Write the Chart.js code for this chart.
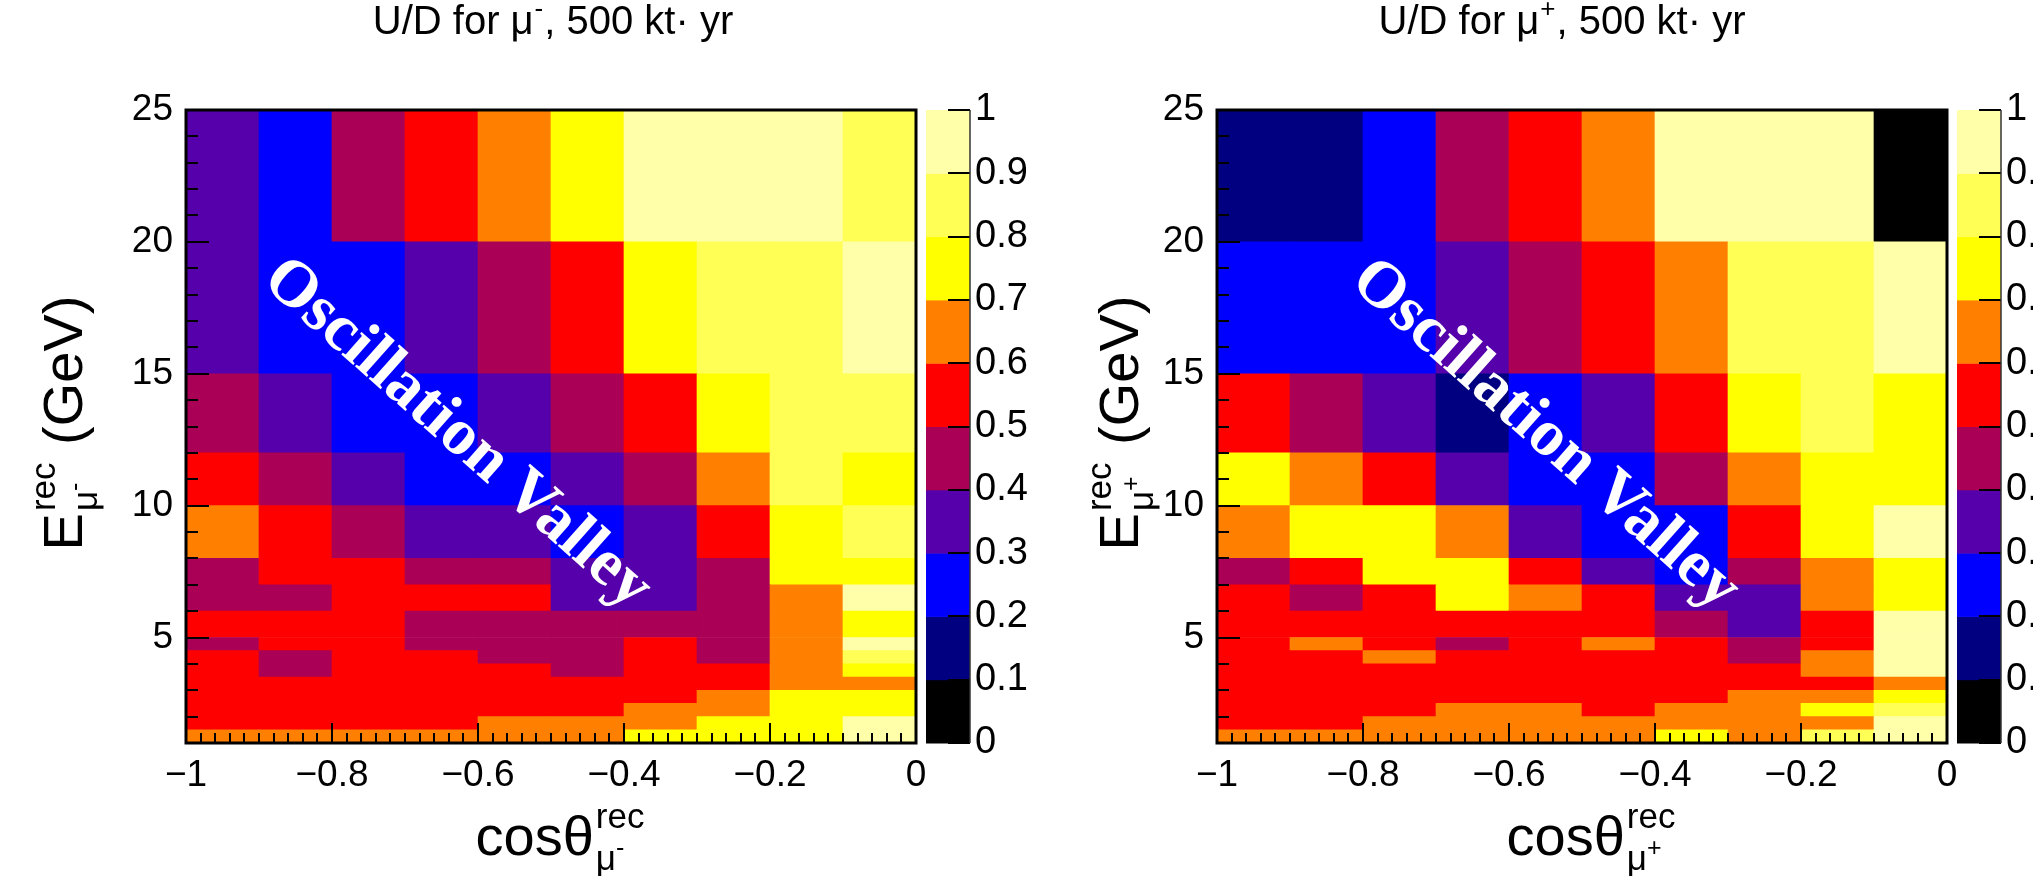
<!DOCTYPE html>
<html>
<head>
<meta charset="utf-8">
<script src="https://cdn.jsdelivr.net/npm/chart.js@4.4.1/dist/chart.umd.min.js"></script>
<style>
  body { margin: 0; background: #fff; width: 2033px; height: 876px; overflow: hidden; position: relative; }
  canvas { position: absolute; top: 0; }
  #udMinus { left: 0; }
  #udPlus { left: 1016px; }
</style>
</head>
<body>
<canvas id="udMinus" width="1100" height="876"></canvas>
<canvas id="udPlus" width="1017" height="876"></canvas>
<script>
// bin edges of the 2D histograms
const cosEdges = [-1, -0.9, -0.8, -0.7, -0.6, -0.5, -0.4, -0.3, -0.2, -0.1, 0];
const eEdges = [1, 1.5, 2, 2.5, 3, 3.5, 4, 4.5, 5, 6, 7, 8, 10, 12, 15, 20, 25];

// tick labels
const xTickVals = [-1, -0.8, -0.6, -0.4, -0.2, 0];
const yTickVals = [5, 10, 15, 20, 25];
const zTickVals = [0, 0.1, 0.2, 0.3, 0.4, 0.5, 0.6, 0.7, 0.8, 0.9, 1];

// ROOT-like 10 level palette, 0 -> 1
const palette = ['#000000', '#000080', '#0000ff', '#5500aa', '#aa0055',
                 '#ff0000', '#ff8000', '#ffff00', '#ffff55', '#ffffaa'];

// U/D ratio, one row per E bin (lowest E first), 10 cos bins each (-1 -> 0)
const udMuMinus = [
  [0.65, 0.65, 0.65, 0.65, 0.65, 0.65, 0.75, 0.75, 0.75, 0.95],
  [0.55, 0.55, 0.55, 0.55, 0.65, 0.65, 0.65, 0.75, 0.75, 0.95],
  [0.55, 0.55, 0.55, 0.55, 0.55, 0.55, 0.65, 0.65, 0.75, 0.75],
  [0.55, 0.55, 0.55, 0.55, 0.55, 0.55, 0.55, 0.65, 0.75, 0.75],
  [0.55, 0.55, 0.55, 0.55, 0.55, 0.55, 0.55, 0.55, 0.65, 0.65],
  [0.55, 0.45, 0.55, 0.55, 0.55, 0.45, 0.55, 0.55, 0.65, 0.75],
  [0.55, 0.45, 0.55, 0.55, 0.45, 0.45, 0.55, 0.45, 0.65, 0.85],
  [0.45, 0.55, 0.55, 0.45, 0.45, 0.45, 0.55, 0.45, 0.65, 0.95],
  [0.55, 0.55, 0.55, 0.45, 0.45, 0.45, 0.45, 0.45, 0.65, 0.75],
  [0.45, 0.45, 0.55, 0.55, 0.55, 0.35, 0.35, 0.45, 0.65, 0.95],
  [0.45, 0.55, 0.55, 0.45, 0.45, 0.35, 0.35, 0.45, 0.75, 0.75],
  [0.65, 0.55, 0.45, 0.35, 0.35, 0.25, 0.35, 0.55, 0.75, 0.85],
  [0.55, 0.45, 0.35, 0.25, 0.25, 0.35, 0.45, 0.65, 0.85, 0.75],
  [0.45, 0.35, 0.25, 0.25, 0.35, 0.45, 0.55, 0.75, 0.85, 0.85],
  [0.35, 0.25, 0.25, 0.35, 0.45, 0.55, 0.75, 0.85, 0.85, 0.95],
  [0.35, 0.25, 0.45, 0.55, 0.65, 0.75, 0.95, 0.95, 0.95, 0.85]
];

const udMuPlus = [
  [0.65, 0.65, 0.65, 0.65, 0.65, 0.65, 0.75, 0.65, 0.85, 0.95],
  [0.55, 0.55, 0.65, 0.65, 0.65, 0.65, 0.65, 0.65, 0.65, 0.95],
  [0.55, 0.55, 0.55, 0.65, 0.65, 0.55, 0.65, 0.65, 0.75, 0.85],
  [0.55, 0.55, 0.55, 0.55, 0.55, 0.55, 0.55, 0.65, 0.65, 0.75],
  [0.55, 0.55, 0.55, 0.55, 0.55, 0.55, 0.55, 0.55, 0.55, 0.65],
  [0.55, 0.55, 0.55, 0.55, 0.55, 0.55, 0.55, 0.55, 0.65, 0.95],
  [0.55, 0.55, 0.65, 0.55, 0.55, 0.55, 0.55, 0.45, 0.65, 0.95],
  [0.55, 0.65, 0.55, 0.45, 0.55, 0.65, 0.55, 0.45, 0.55, 0.95],
  [0.55, 0.55, 0.55, 0.55, 0.55, 0.55, 0.45, 0.35, 0.55, 0.95],
  [0.55, 0.45, 0.55, 0.75, 0.65, 0.55, 0.35, 0.35, 0.65, 0.75],
  [0.45, 0.55, 0.75, 0.75, 0.55, 0.35, 0.25, 0.45, 0.65, 0.75],
  [0.65, 0.75, 0.75, 0.65, 0.35, 0.25, 0.25, 0.55, 0.75, 0.95],
  [0.75, 0.65, 0.55, 0.35, 0.25, 0.25, 0.45, 0.65, 0.75, 0.75],
  [0.55, 0.45, 0.35, 0.15, 0.25, 0.35, 0.55, 0.75, 0.85, 0.75],
  [0.25, 0.25, 0.25, 0.35, 0.45, 0.55, 0.65, 0.85, 0.85, 0.95],
  [0.15, 0.15, 0.25, 0.45, 0.55, 0.65, 0.95, 0.95, 0.95, 0.00]
];

const SANS = '"Liberation Sans", Arial, Helvetica, sans-serif';

function colorFor(v) {
  return palette[Math.max(0, Math.min(9, Math.floor(v * 10 + 1e-9)))];
}

function fmtCos(v) {
  if (v === 0) return '0';
  return (v < 0 ? '\u2212' : '') + String(+Math.abs(v).toFixed(1));
}

// text like  main^{sup}_{sub^{subSup}} tail , centred on (x, y) baseline
function drawRich(ctx, x, y, angle, t, size) {
  const small = Math.round(size * 0.62);
  const tiny = Math.round(size * 0.45);
  const f = s => s + 'px ' + SANS;
  ctx.save();
  ctx.translate(x, y);
  ctx.rotate(angle);
  ctx.fillStyle = '#000';
  ctx.textAlign = 'left';
  ctx.textBaseline = 'alphabetic';
  ctx.font = f(size);
  const wMain = ctx.measureText(t.main).width;
  const wTail = ctx.measureText(t.tail).width;
  ctx.font = f(small);
  const wSup = ctx.measureText(t.sup).width;
  const wSub = ctx.measureText(t.sub).width;
  ctx.font = f(tiny);
  const wSubSup = ctx.measureText(t.subSup).width;
  const wStack = Math.max(wSup, wSub + wSubSup) + 2;
  let cx = -(wMain + wStack + wTail) / 2;
  ctx.font = f(size);
  ctx.fillText(t.main, cx, 0);
  cx += wMain + 2;
  ctx.font = f(small);
  ctx.fillText(t.sup, cx, -size * 0.48);
  ctx.fillText(t.sub, cx, size * 0.27);
  ctx.font = f(tiny);
  ctx.fillText(t.subSup, cx + wSub, size * 0.02);
  cx += wStack;
  ctx.font = f(size);
  ctx.fillText(t.tail, cx, 0);
  ctx.restore();
}

const rootStyle = {
  id: 'rootStyle',
  afterDatasetsDraw(chart, args, o) {
    const ctx = chart.ctx;
    const ca = chart.chartArea;
    const xs = chart.scales.x, ys = chart.scales.y, zs = chart.scales.z;
    ctx.save();

    // oscillation valley label
    ctx.save();
    ctx.translate(o.valley[0], o.valley[1]);
    ctx.rotate(41.5 * Math.PI / 180);
    ctx.fillStyle = '#fff';
    ctx.font = 'bold 66px "Liberation Serif", "Times New Roman", serif';
    ctx.textAlign = 'center';
    ctx.textBaseline = 'middle';
    ctx.fillText('Oscillation Valley', 0, 0);
    ctx.restore();

    // tick marks (inside the frame, ROOT style)
    ctx.strokeStyle = '#000';
    ctx.lineWidth = 2;
    ctx.beginPath();
    for (let k = 0; k <= 50; k++) {
      const px = Math.round(xs.getPixelForValue(-1 + k * 0.02));
      const len = k % 10 === 0 ? 20 : 10;
      ctx.moveTo(px, ca.bottom);
      ctx.lineTo(px, ca.bottom - len);
    }
    for (let e = 1; e <= 25; e++) {
      const py = Math.round(ys.getPixelForValue(e));
      const len = e % 5 === 0 ? 23 : 12;
      ctx.moveTo(ca.left, py);
      ctx.lineTo(ca.left + len, py);
    }
    ctx.stroke();

    // frame
    ctx.lineWidth = 3;
    ctx.strokeRect(ca.left, ca.top, ca.right - ca.left, ca.bottom - ca.top);

    // colour bar
    const bx0 = ca.right + 10, bx1 = ca.right + 54;
    for (let i = 0; i < palette.length; i++) {
      const top = zs.getPixelForValue((i + 1) / 10);
      const bot = zs.getPixelForValue(i / 10);
      ctx.fillStyle = palette[i];
      ctx.fillRect(bx0, top, bx1 - bx0, bot - top + 0.5);
    }
    ctx.lineWidth = 2;
    ctx.beginPath();
    zTickVals.forEach(v => {
      const py = Math.round(zs.getPixelForValue(v));
      ctx.moveTo(bx1 - 22, py);
      ctx.lineTo(bx1, py);
    });
    ctx.stroke();
    ctx.lineWidth = 1.5;
    ctx.strokeStyle = '#333';
    ctx.beginPath();
    ctx.moveTo(bx1, zs.getPixelForValue(1));
    ctx.lineTo(bx1, zs.getPixelForValue(0));
    ctx.stroke();

    // title
    ctx.fillStyle = '#000';
    ctx.textBaseline = 'alphabetic';
    ctx.textAlign = 'left';
    ctx.font = '40px ' + SANS;
    const t1 = 'U/D for \u03bc', t2 = ', 500 kt\u00b7 yr';
    const w1 = ctx.measureText(t1).width, w2 = ctx.measureText(t2).width;
    ctx.font = '26px ' + SANS;
    const wS = ctx.measureText(o.sign).width;
    let tx = o.titleX - (w1 + wS + w2) / 2;
    ctx.font = '40px ' + SANS;
    ctx.fillText(t1, tx, o.titleY);
    ctx.font = '26px ' + SANS;
    ctx.fillText(o.sign, tx + w1 + 1, o.titleY - 17);
    ctx.font = '40px ' + SANS;
    ctx.fillText(t2, tx + w1 + wS + 2, o.titleY);

    // axis titles
    drawRich(ctx, (ca.left + ca.right) / 2 + 9, 855, 0,
      { main: 'cos\u03b8', sup: 'rec', sub: '\u03bc', subSup: o.sign, tail: '' }, 56);
    drawRich(ctx, ca.left - o.yTitleOff, 424, -Math.PI / 2,
      { main: 'E', sup: 'rec', sub: '\u03bc', subSup: o.sign, tail: ' (GeV)' }, 56);

    ctx.restore();
  }
};

function makeChart(id, values, o) {
  const datasets = values.map((row, r) => ({
    data: row.map((v, c) => ({
      x: (cosEdges[c] + cosEdges[c + 1]) / 2,
      y: [eEdges[r], eEdges[r + 1]]
    })),
    backgroundColor: row.map(colorFor),
    borderWidth: 0,
    grouped: false,
    barPercentage: 1,
    categoryPercentage: 1
  }));

  const tickFont = { family: SANS, size: 37 };

  return new Chart(document.getElementById(id), {
    type: 'bar',
    data: { datasets: datasets },
    plugins: [rootStyle],
    options: {
      responsive: false,
      animation: false,
      devicePixelRatio: 1,
      events: [],
      layout: { padding: { top: 110, left: 0, right: 0, bottom: 0 } },
      plugins: {
        legend: { display: false },
        tooltip: { enabled: false },
        title: { display: false },
        rootStyle: o
      },
      scales: {
        x: {
          type: 'linear',
          min: -1, max: 0,
          offset: false,
          grid: { display: false, drawTicks: false, offset: false },
          border: { display: false },
          afterBuildTicks: s => { s.ticks = xTickVals.map(v => ({ value: v })); },
          afterFit: s => { s.height = 133; },
          ticks: {
            font: tickFont, color: '#000', padding: 11,
            maxRotation: 0, autoSkip: false,
            callback: v => fmtCos(v)
          }
        },
        y: {
          type: 'linear',
          position: 'left',
          min: 1, max: 25,
          grid: { display: false, drawTicks: false },
          border: { display: false },
          afterBuildTicks: s => { s.ticks = yTickVals.map(v => ({ value: v })); },
          afterFit: s => { s.width = o.yWidth; },
          ticks: { font: tickFont, color: '#000', padding: 13, autoSkip: false }
        },
        z: {
          type: 'linear',
          position: 'right',
          min: 0, max: 1,
          grid: { display: false, drawTicks: false },
          border: { display: false },
          afterBuildTicks: s => { s.ticks = zTickVals.map(v => ({ value: v })); },
          afterFit: s => { s.width = o.zWidth; },
          ticks: {
            font: { family: SANS, size: 38 }, color: '#000', padding: 59, autoSkip: false,
            callback: v => String(+v.toFixed(1))
          }
        }
      }
    }
  });
}

makeChart('udMinus', udMuMinus, {
  sign: '-', yWidth: 186, zWidth: 184, yTitleOff: 104,
  titleX: 552, titleY: 34, valley: [457, 434]
});
makeChart('udPlus', udMuPlus, {
  sign: '+', yWidth: 201, zWidth: 86, yTitleOff: 79,
  titleX: 545, titleY: 34, valley: [529, 435]
});
</script>
</body>
</html>
